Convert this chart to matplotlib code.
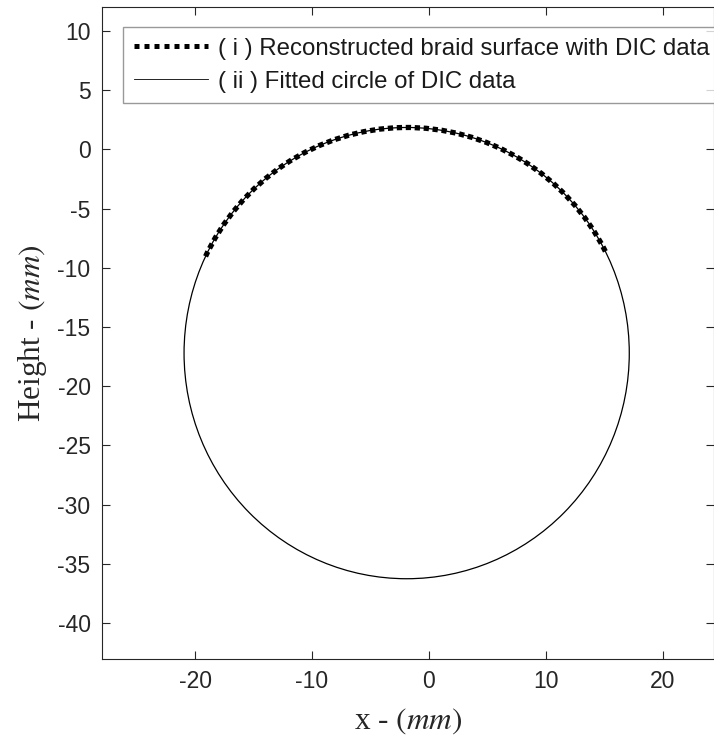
import matplotlib
matplotlib.use("Agg")
import matplotlib.pyplot as plt
from matplotlib.patches import Arc, Circle
from matplotlib.lines import Line2D

# fitted circle of DIC data (mm)
CENTER_X = -1.9
CENTER_Y = -17.2
RADIUS = 19.05

# reconstructed braid surface: arc of the circle covered by DIC data (degrees)
ARC_START = 26.8
ARC_END = 155.3

X_TICKS = [-20, -10, 0, 10, 20]
Y_TICKS = [10, 5, 0, -5, -10, -15, -20, -25, -30, -35, -40]
X_LIM = (-28, 24.4)
Y_LIM = (-43, 12)

LABELS = ["( i ) Reconstructed braid surface with DIC data",
          "( ii ) Fitted circle of DIC data"]

AXIS_COLOR = "#262626"

plt.rcParams["font.family"] = ["Liberation Sans", "DejaVu Sans"]
plt.rcParams["mathtext.fontset"] = "stix"
plt.rcParams["axes.unicode_minus"] = False

fig = plt.figure(figsize=(7.14, 7.42), dpi=100)
ax = fig.add_axes([0.1424, 0.1123, 0.8576, 0.8779])

circle = Circle((CENTER_X, CENTER_Y), RADIUS, fill=False, color="black", lw=0.9)
ax.add_patch(circle)
arc = Arc((CENTER_X, CENTER_Y), 2 * RADIUS, 2 * RADIUS, theta1=ARC_START, theta2=ARC_END,
          color="black", lw=3.8, linestyle=(0, (1, 0.7)))
ax.add_patch(arc)

ax.set_xlim(*X_LIM)
ax.set_ylim(*Y_LIM)
ax.set_xticks(X_TICKS)
ax.set_yticks(Y_TICKS)
ax.tick_params(direction="in", length=6, width=0.8, colors=AXIS_COLOR,
               labelsize=16.5, top=True, right=True, pad=8)
for s in ax.spines.values():
    s.set_color(AXIS_COLOR)
    s.set_linewidth(0.8)

ax.set_xlabel(r"x - $(mm)$", family=["Liberation Serif"], fontsize=22.5, color=AXIS_COLOR, labelpad=10)
ax.set_ylabel(r"Height - $(mm)$", family=["Liberation Serif"], fontsize=22.5, color=AXIS_COLOR, labelpad=6)

handles = [Line2D([], [], color="black", lw=3.6, linestyle=(0, (1, 1))),
           Line2D([], [], color="black", lw=0.6)]
leg = ax.legend(handles, LABELS, loc="upper left", bbox_to_anchor=(123 / 714, 1 - 27 / 742),
                bbox_transform=fig.transFigure, fontsize=17.3, frameon=True, fancybox=False,
                handlelength=3.1, handletextpad=0.4, borderpad=0.45, labelspacing=0.45,
                borderaxespad=0)
leg.get_frame().set_edgecolor("#808080")
leg.get_frame().set_linewidth(1.0)
for t in leg.get_texts():
    t.set_color("#1a1a1a")

fig.savefig("out.png", dpi=100)
